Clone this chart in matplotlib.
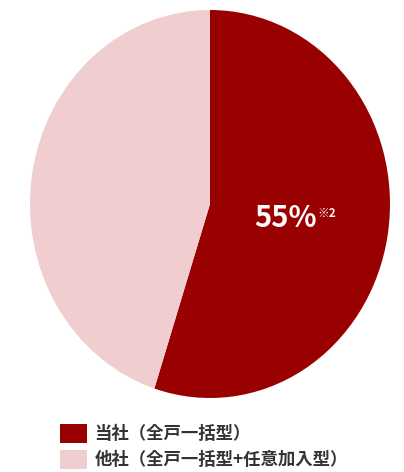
import matplotlib.pyplot as plt

plt.rcParams['font.family'] = ['Noto Sans CJK JP', 'DejaVu Sans']

labels = ['当社（全戸一括型）', '他社（全戸一括型+任意加入型）']
shares = [55, 45]
colors = ['#990000', '#f0cdce']

fig = plt.figure(figsize=(4.04, 4.72), dpi=100)
ax = fig.add_axes([30 / 404, 74 / 472, 360 / 404, 388 / 472])
wedges, _ = ax.pie(shares, colors=colors, startangle=90, counterclock=False)
ax.set_aspect('auto')
ax.set_xlim(-1, 1)
ax.set_ylim(-1, 1)

ax.text(0.42, -0.07, '55%', color='white', fontsize=21, fontweight='bold',
        ha='center', va='center')
ax.text(0.65, -0.05, '※2', color='white', fontsize=8.5, fontweight='bold',
        ha='center', va='center')

fig.legend(wedges, labels, loc='upper left', bbox_to_anchor=(44 / 404, 1 - 408 / 472),
           frameon=False, handlelength=1.55, handleheight=1.3, handletextpad=0.45,
           labelspacing=0.4, prop=dict(size=12.5, weight='bold'), labelcolor='#333333')

fig.savefig('out.png', dpi=100)
